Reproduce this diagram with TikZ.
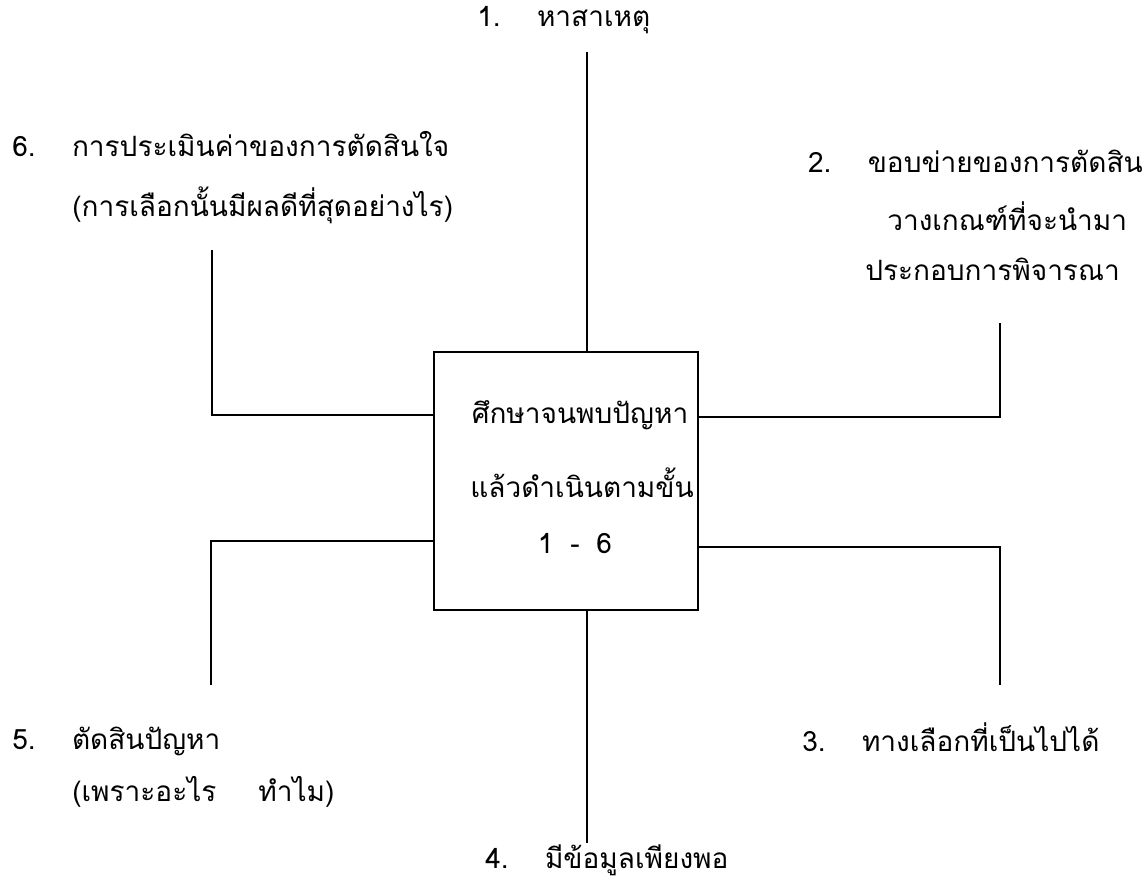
\documentclass[tikz,border=0pt]{standalone}
\usepackage{fontspec}
\setmainfont{Loma}[Script=Thai]
\tikzset{
  lbl/.style={inner sep=0pt, anchor=base west, font=\fontsize{21}{25}\selectfont},
  mid/.style={inner sep=0pt, anchor=base, font=\fontsize{21}{25}\selectfont},
  ln/.style={line width=1pt, black},
  box/.style={draw, line width=1pt, minimum width=198pt, minimum height=193.5pt, inner sep=0pt}
}
\begin{document}
\begin{tikzpicture}[x=0.75pt,y=-0.75pt]
\useasboundingbox (0,0) rectangle (1148,887);
% central box
\node[box] (c) at (566,481) {};
\node[mid] (m1) at (580,423) {ศึกษาจนพบปัญหา};
\node[mid] (m2) at (582,497) {แล้วดำเนินตามขั้น};
\node[mid] (m3) at (575,553) {1\hspace{0.6em}-\hspace{0.6em}6};
% labels
\node[lbl] (t1) at (477,27) {1.\hspace{1.3em}หาสาเหตุ};
\node[lbl] (t6a) at (12,157) {6.\hspace{1.3em}การประเมินค่าของการตัดสินใจ};
\node[lbl] (t6b) at (72,217) {(การเลือกนั้นมีผลดีที่สุดอย่างไร)};
\node[lbl, anchor=base east] (t2a) at (1143,173) {2.\hspace{1.3em}ขอบข่ายของการตัดสิน};
\node[lbl] (t2b) at (887,231) {วางเกณฑ์ที่จะนำมา};
\node[lbl] (t2c) at (865,281) {ประกอบการพิจารณา};
\node[lbl] (t5a) at (12,749) {5.\hspace{1.3em}ตัดสินปัญหา};
\node[lbl] (t5b) at (72,801) {(เพราะอะไร\hspace{1.5em}ทำไม)};
\node[lbl] (t3) at (802,751) {3.\hspace{1.3em}ทางเลือกที่เป็นไปได้};
\node[lbl] (t4) at (485,868) {4.\hspace{1.3em}มีข้อมูลเพียงพอ};
% connector end points
\coordinate (e1) at (587,52);
\coordinate (e4) at (587,843);
\coordinate (e6) at (212,250);
\coordinate (e5) at (211,685);
\coordinate (e2) at (1000,323);
\coordinate (e3) at (1000,685);
% connectors
\draw[ln] (c.north -| e1) -- (e1);
\draw[ln] (c.south -| e4) -- (e4);
\draw[ln] (c.west |- 0,415) -| (e6);
\draw[ln] (c.west |- 0,541) -| (e5);
\draw[ln] (c.east |- 0,417) -| (e2);
\draw[ln] (c.east |- 0,547) -| (e3);
\end{tikzpicture}
\end{document}
